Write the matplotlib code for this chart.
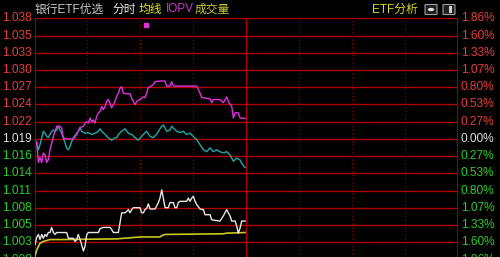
import matplotlib
matplotlib.use("Agg")
import matplotlib.pyplot as plt
from matplotlib.patches import FancyBboxPatch, Circle, Rectangle

plt.rcParams['font.family'] = ['Liberation Sans', 'Noto Sans CJK SC', 'DejaVu Sans']

# ---------------- data ----------------
base_price = 1.019
max_pct = 1.86
total_minutes = 240

left_labels = ['1.000', '1.003', '1.005', '1.008', '1.011', '1.014', '1.016',
               '1.019',
               '1.022', '1.024', '1.027', '1.030', '1.033', '1.035', '1.038']
right_labels = ['1.86%', '1.60%', '1.33%', '1.07%', '0.80%', '0.53%', '0.27%',
                '0.00%',
                '0.27%', '0.53%', '0.80%', '1.07%', '1.33%', '1.60%', '1.86%']

iopv_t = [1.2, 2.2, 3.1, 4.1, 5.0, 6.0, 6.9, 7.8, 8.8, 10.7,
          12.6, 14.5, 15.4, 16.3, 18.2, 22.0, 23.9, 25.8, 27.7, 28.7,
          29.6, 30.5, 31.5, 32.4, 33.3, 34.3, 35.2, 36.2, 37.1, 38.1,
          39.0, 40.0, 40.9, 41.8, 42.8, 43.7, 44.7, 45.6, 46.6, 47.5,
          48.5, 49.4, 50.3, 52.2, 54.1, 55.1, 56.0, 57.0, 57.9, 59.8,
          61.7, 62.6, 63.6, 64.3, 65.4, 67.2, 68.3, 71.1, 73.9, 74.9,
          76.8, 77.7, 78.7, 91.9, 93.8, 94.8, 99.5, 100.4, 101.3, 105.1,
          107.0, 108.9, 110.2, 111.8, 112.7, 113.7, 115.5, 116.5, 119.3]
iopv_v = [1.0186, 1.0153, 1.0161, 1.0153, 1.0168, 1.0165, 1.0153, 1.0157, 1.0173, 1.0194,
          1.0210, 1.0210, 1.0207, 1.0192, 1.0190, 1.0190, 1.0197, 1.0208, 1.0210, 1.0215,
          1.0217, 1.0215, 1.0223, 1.0217, 1.0220, 1.0215, 1.0225, 1.0231, 1.0233, 1.0241,
          1.0236, 1.0241, 1.0249, 1.0252, 1.0246, 1.0239, 1.0244, 1.0249, 1.0257, 1.0262,
          1.0270, 1.0272, 1.0262, 1.0261, 1.0261, 1.0254, 1.0249, 1.0244, 1.0249, 1.0252,
          1.0256, 1.0255, 1.0262, 1.0270, 1.0272, 1.0275, 1.0280, 1.0281, 1.0281, 1.0273,
          1.0273, 1.0280, 1.0273, 1.0273, 1.0262, 1.0255, 1.0253, 1.0247, 1.0252, 1.0252,
          1.0247, 1.0256, 1.0247, 1.0241, 1.0223, 1.0231, 1.0231, 1.0223, 1.0222]

iopv_dot_t = [63.2]
iopv_dot_v = [1.0369]

nav_t = [1.2, 2.2, 3.1, 4.1, 5.0, 6.0, 6.9, 7.8, 8.8, 9.7,
         10.7, 11.6, 12.6, 13.5, 14.5, 15.4, 16.3, 17.3, 18.2, 19.2,
         20.1, 21.1, 22.0, 23.9, 24.8, 25.8, 26.7, 28.6, 30.5, 32.4,
         34.3, 36.2, 37.1, 38.1, 40.0, 41.8, 43.7, 45.6, 46.6, 47.5,
         49.4, 51.3, 53.2, 55.1, 57.0, 58.8, 60.7, 62.6, 63.6, 65.5,
         67.2, 69.2, 70.2, 72.1, 73.0, 74.0, 74.9, 76.8, 77.7, 78.7,
         80.6, 82.5, 84.3, 86.2, 88.1, 90.0, 91.9, 93.8, 95.7, 97.6,
         99.5, 101.3, 103.2, 105.1, 107.0, 108.9, 110.8, 112.7, 114.6, 116.5,
         117.4, 119.3]
nav_v = [1.0184, 1.0173, 1.0181, 1.0192, 1.0202, 1.0199, 1.0194, 1.0192, 1.0197, 1.0202,
         1.0204, 1.0202, 1.0204, 1.0210, 1.0204, 1.0199, 1.0192, 1.0184, 1.0176, 1.0173,
         1.0178, 1.0186, 1.0192, 1.0199, 1.0202, 1.0208, 1.0202, 1.0199, 1.0200, 1.0197,
         1.0199, 1.0202, 1.0206, 1.0202, 1.0197, 1.0192, 1.0188, 1.0192, 1.0192, 1.0197,
         1.0202, 1.0206, 1.0199, 1.0197, 1.0192, 1.0188, 1.0194, 1.0200, 1.0202, 1.0194,
         1.0192, 1.0197, 1.0202, 1.0210, 1.0212, 1.0207, 1.0202, 1.0204, 1.0210, 1.0207,
         1.0202, 1.0200, 1.0202, 1.0197, 1.0199, 1.0194, 1.0189, 1.0181, 1.0173, 1.0170,
         1.0176, 1.0170, 1.0173, 1.0170, 1.0168, 1.0170, 1.0165, 1.0155, 1.0160, 1.0157,
         1.0152, 1.0145]

price_t = [0.3, 1.2, 2.2, 3.1, 4.1, 5.0, 6.0, 6.9, 7.8, 8.8,
           9.7, 10.7, 11.6, 12.6, 18.2, 19.2, 22.0, 23.0, 23.9, 24.8,
           25.8, 26.7, 27.7, 28.6, 29.6, 30.5, 36.2, 37.1, 39.0, 42.8,
           43.7, 44.7, 47.5, 48.5, 49.4, 51.3, 52.2, 53.2, 54.1, 55.1,
           56.0, 59.8, 60.7, 61.7, 62.6, 63.6, 64.5, 65.5, 68.3, 70.2,
           71.1, 72.1, 73.0, 74.0, 75.8, 76.8, 78.7, 79.6, 80.6, 81.5,
           82.5, 86.2, 87.2, 88.1, 89.1, 90.0, 91.0, 91.9, 93.8, 95.7,
           96.6, 99.5, 100.4, 105.1, 107.0, 108.9, 110.8, 111.8, 113.7, 114.6,
           115.5, 116.5, 117.4, 119.3]
price_v = [1.0024, 1.0035, 1.0040, 1.0032, 1.0040, 1.0034, 1.0040, 1.0037, 1.0043, 1.0043,
           1.0051, 1.0043, 1.0040, 1.0043, 1.0043, 1.0034, 1.0034, 1.0029, 1.0032, 1.0040,
           1.0032, 1.0024, 1.0014, 1.0021, 1.0040, 1.0043, 1.0043, 1.0049, 1.0051, 1.0051,
           1.0048, 1.0043, 1.0043, 1.0059, 1.0074, 1.0074, 1.0076, 1.0079, 1.0074, 1.0079,
           1.0082, 1.0082, 1.0074, 1.0074, 1.0079, 1.0081, 1.0088, 1.0080, 1.0080, 1.0090,
           1.0097, 1.0110, 1.0097, 1.0082, 1.0082, 1.0090, 1.0090, 1.0082, 1.0082, 1.0090,
           1.0092, 1.0092, 1.0097, 1.0092, 1.0097, 1.0100, 1.0092, 1.0087, 1.0080, 1.0079,
           1.0071, 1.0071, 1.0063, 1.0061, 1.0069, 1.0079, 1.0069, 1.0061, 1.0061, 1.0053,
           1.0042, 1.0050, 1.0061, 1.0061]

avg_t = [0.3, 1.2, 2.2, 3.1, 5.0, 8.8, 16.3, 46.6, 59.8, 71.1, 72.1, 74.0, 106.8, 108.9, 119.3]
avg_v = [1.0006, 1.0015, 1.0021, 1.0026, 1.0029, 1.0032, 1.0032, 1.0033, 1.0036, 1.0036,
         1.0038, 1.0040, 1.0041, 1.0042, 1.0043]

# ---------------- figure ----------------
W, H = 500, 257
fig = plt.figure(figsize=(W / 100, H / 100), dpi=100, facecolor='black')

ax_left_px, ax_right_px = 34.5, 458.0
ax_top_px, ax_bot_px = 18.3, 259.6
ax = fig.add_axes([ax_left_px / W, 1 - ax_bot_px / H,
                   (ax_right_px - ax_left_px) / W, (ax_bot_px - ax_top_px) / H])
ax.set_facecolor('black')

n_steps = 7
step = base_price * max_pct / 100 / n_steps
lo = base_price - n_steps * step
hi = base_price + n_steps * step
ax.set_xlim(0, total_minutes)
ax.set_ylim(lo, hi)
ax.set_xticks([])
ax.set_yticks([])
for s in ax.spines.values():
    s.set_visible(False)

grid_red = '#b00000'
levels = [base_price + k * step for k in range(-n_steps, n_steps + 1)]
for lv in levels:
    ax.axhline(lv, color=grid_red, lw=1.0, zorder=1)

for m in [30, 60, 90, 150, 180, 210]:
    ax.axvline(m, color='#8a0000', lw=0.9, ls=(0, (1, 2)), zorder=1)
ax.axvline(120, color=grid_red, lw=1.0, zorder=1)
ax.axvline(0, color=grid_red, lw=1.2, zorder=1)
ax.axvline(total_minutes, color=grid_red, lw=1.2, zorder=1)

# series
ax.plot(avg_t, avg_v, color='#c8c820', lw=1.2, zorder=3)
ax.plot(price_t, price_v, color='#e6e6e6', lw=1.0, zorder=4)
ax.plot(nav_t, nav_v, color='#20a8a8', lw=1.0, zorder=3)
ax.plot(iopv_t, iopv_v, color='#e030e0', lw=1.0, zorder=4)
ax.plot(iopv_dot_t, iopv_dot_v, 's', color='#e030e0', ms=2.5, zorder=5)

# axis labels
ytr = ax.get_yaxis_transform()
fs = 8.6
red_txt, green_txt, white_txt = '#e83c3c', '#2ccc2c', '#e0e0e0'
for i, lv in enumerate(levels):
    k = i - n_steps
    col = red_txt if k > 0 else (white_txt if k == 0 else green_txt)
    ax.text(-0.0075, lv, left_labels[i], transform=ytr, ha='right', va='center',
            color=col, fontsize=fs, clip_on=False)
    ax.text(1.0065, lv, right_labels[n_steps * 2 - i], transform=ytr, ha='left',
            va='center', color=col, fontsize=fs, clip_on=False)

# header texts
ty = 1 - 9.5 / H
fig.text(35 / W, ty, '银行ETF优选', color='#c8c8c8', fontsize=8.5, va='center', ha='left')
fig.text(112 / W, ty, '分时', color='#e8e8e8', fontsize=8.5, va='center', ha='left')
fig.text(139 / W, ty, '均线', color='#e8e820', fontsize=8.5, va='center', ha='left')
fig.text(166 / W, ty, 'IOPV', color='#c83cc8', fontsize=8.5, va='center', ha='left')
fig.text(195 / W, ty, '成交量', color='#c8c83c', fontsize=8.5, va='center', ha='left')
fig.text(372 / W, ty, 'ETF分析', color='#d8d830', fontsize=8.5, va='center', ha='left')

# icons
icon1 = FancyBboxPatch((426 / W, 1 - 14 / H), 10 / W, 9 / H,
                       boxstyle='round,pad=0.002', transform=fig.transFigure,
                       facecolor='#202020', edgecolor='#a0a0a0', lw=0.8)
fig.patches.append(icon1)
fig.patches.append(Circle((431 / W, 1 - 9.5 / H), 3.2 / W, transform=fig.transFigure,
                          facecolor='#e0e0e0', edgecolor='none'))
icon2 = FancyBboxPatch((444 / W, 1 - 14 / H), 10 / W, 9 / H,
                       boxstyle='round,pad=0.002', transform=fig.transFigure,
                       facecolor='#202020', edgecolor='#a0a0a0', lw=0.8)
fig.patches.append(icon2)
fig.patches.append(Rectangle((449 / W, 1 - 13 / H), 3 / W, 7 / H, transform=fig.transFigure,
                             facecolor='#d0d0d0', edgecolor='none'))

fig.savefig('out.png', dpi=100, facecolor='black')
